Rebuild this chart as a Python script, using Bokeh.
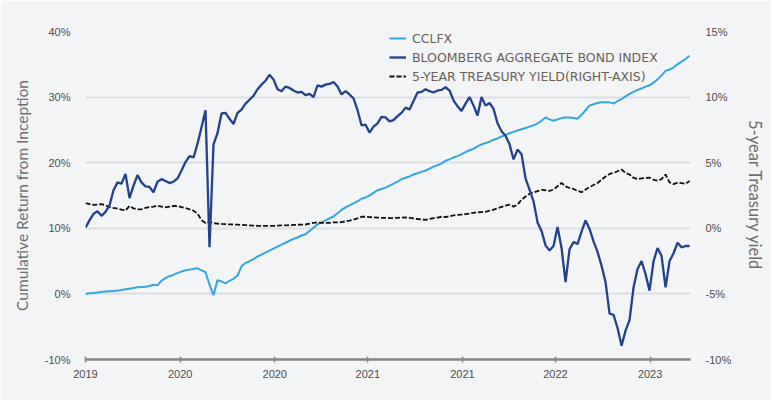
import numpy as np
from bokeh.plotting import figure
from bokeh.models import (Range1d, LinearAxis, FixedTicker, PrintfTickFormatter,
                          Legend, LegendItem)
from bokeh.embed import file_html
from bokeh.resources import INLINE

# ---------------- data ----------------
period_start = 2019.41
period_end = 2023.24
axis_end = 2023.246

tick_pos = [2019.41, 2020.01, 2020.61, 2021.20, 2021.80, 2022.39, 2022.99]
tick_labels = ["2019", "2020", "2020", "2021", "2021", "2022", "2023"]
left_ticks = [-10, 0, 10, 20, 30, 40]
right_ticks = [-10, -5, 0, 5, 10, 15]

series_names = ["CCLFX", "BLOOMBERG AGGREGATE BOND INDEX", "5-YEAR TREASURY YIELD(RIGHT-AXIS)"]

cclfx = [
    0.0, 0.1, 0.15, 0.2, 0.3, 0.35, 0.4, 0.45, 0.5, 0.6,
    0.7, 0.8, 0.9, 1.0, 1.05, 1.1, 1.2, 1.4, 1.3, 2.0,
    2.4, 2.7, 2.9, 3.2, 3.4, 3.6, 3.7, 3.8, 3.9, 3.6,
    3.3, 1.4, -0.2, 2.1, 1.9, 1.6, 2.0, 2.3, 2.8, 4.2,
    4.7, 5.0, 5.3, 5.7, 6.0, 6.3, 6.6, 6.9, 7.2, 7.5,
    7.8, 8.1, 8.4, 8.6, 8.9, 9.1, 9.6, 10.1, 10.6, 10.9,
    11.2, 11.5, 11.8, 12.3, 12.8, 13.2, 13.5, 13.8, 14.1, 14.5,
    14.7, 15.0, 15.4, 15.8, 16.0, 16.2, 16.5, 16.8, 17.1, 17.5,
    17.7, 17.9, 18.2, 18.4, 18.6, 18.8, 19.1, 19.4, 19.6, 19.9,
    20.3, 20.5, 20.8, 21.0, 21.3, 21.6, 21.9, 22.1, 22.5, 22.8,
    23.0, 23.2, 23.5, 23.7, 24.0, 24.2, 24.5, 24.7, 24.9, 25.1,
    25.3, 25.5, 25.7, 26.0, 26.4, 26.9, 26.6, 26.4, 26.6, 26.8,
    26.9, 26.9, 26.8, 26.7, 27.3, 28.0, 28.7, 28.9, 29.1, 29.2,
    29.2, 29.2, 29.0, 29.4, 29.7, 30.1, 30.5, 30.8, 31.1, 31.3,
    31.6, 31.8, 32.2, 32.7, 33.3, 34.0, 34.2, 34.5, 35.0, 35.4,
    35.8, 36.3,
]

bloomberg = [
    10.1, 11.2, 12.2, 12.6, 11.9, 12.5, 13.5, 15.8, 17.0, 16.8,
    18.3, 14.6, 16.5, 18.1, 17.0, 16.4, 16.3, 15.5, 17.1, 17.5,
    17.2, 16.9, 17.1, 17.6, 18.8, 20.1, 21.0, 20.8, 22.9, 25.4,
    28.0, 7.1, 22.8, 24.5, 27.5, 27.6, 26.7, 25.9, 27.6, 28.1,
    29.0, 29.6, 30.2, 31.2, 31.9, 32.5, 33.4, 32.7, 31.2, 30.9,
    31.6, 31.4, 31.0, 30.7, 30.8, 30.3, 30.5, 30.0, 31.8, 31.6,
    31.9, 32.0, 32.3, 31.6, 30.4, 30.9, 30.4, 29.8, 28.0, 25.7,
    25.8, 24.6, 25.5, 26.0, 27.0, 26.9, 26.3, 26.5, 27.1, 27.6,
    28.4, 28.1, 29.4, 30.7, 30.8, 31.2, 30.9, 30.7, 31.0, 31.1,
    31.5, 31.0, 29.5, 28.6, 27.9, 29.0, 30.0, 28.7, 27.2, 30.0,
    28.7, 29.1, 28.2, 26.0, 24.8, 24.1, 22.8, 20.5, 22.0, 21.3,
    17.6, 15.9, 14.1, 10.9, 9.6, 7.4, 6.6, 7.3, 10.2, 7.0,
    1.8, 6.8, 7.9, 7.6, 9.5, 11.2, 9.9, 8.0, 6.4, 4.3,
    1.8, -3.0, -3.2, -5.2, -7.9, -5.6, -4.0, 1.0, 3.8, 5.0,
    3.0, 0.5, 5.0, 7.0, 5.8, 1.0, 5.0, 6.2, 7.8, 7.1,
    7.3, 7.3,
]

treasury = [
    1.92, 1.85, 1.78, 1.80, 1.84, 1.75, 1.62, 1.55, 1.50, 1.42,
    1.36, 1.70, 1.52, 1.44, 1.45, 1.56, 1.62, 1.66, 1.72, 1.66,
    1.60, 1.65, 1.70, 1.70, 1.62, 1.55, 1.45, 1.34, 1.12, 0.62,
    0.40, 0.50, 0.39, 0.36, 0.33, 0.32, 0.30, 0.29, 0.28, 0.26,
    0.24, 0.22, 0.20, 0.19, 0.19, 0.19, 0.19, 0.19, 0.20, 0.22,
    0.23, 0.24, 0.26, 0.27, 0.28, 0.29, 0.35, 0.42, 0.45, 0.42,
    0.42, 0.42, 0.45, 0.45, 0.47, 0.53, 0.58, 0.66, 0.76, 0.88,
    0.88, 0.85, 0.84, 0.82, 0.80, 0.79, 0.78, 0.78, 0.80, 0.82,
    0.83, 0.80, 0.75, 0.71, 0.68, 0.65, 0.72, 0.78, 0.82, 0.88,
    0.86, 0.92, 0.98, 1.02, 1.05, 1.08, 1.13, 1.18, 1.22, 1.24,
    1.26, 1.34, 1.42, 1.52, 1.63, 1.72, 1.80, 1.65, 1.80, 2.18,
    2.42, 2.63, 2.74, 2.84, 2.93, 2.90, 2.86, 2.95, 3.20, 3.45,
    3.19, 3.07, 3.00, 2.85, 2.75, 2.95, 3.14, 3.30, 3.45, 3.70,
    3.95, 4.14, 4.22, 4.35, 4.48, 4.22, 4.10, 3.85, 3.76, 3.80,
    3.84, 3.86, 3.70, 3.63, 3.75, 4.10, 3.50, 3.37, 3.48, 3.45,
    3.40, 3.60,
]

# ---------------- styling ----------------
BG = "#f2f4f6"
GRID = "#dcdee1"
NAVY = "#24418a"
LIGHT = "#35a6de"
TXT = "#4f4f4f"
TITLE = "#6e6e6e"

x_c = np.linspace(period_start, period_end, len(cclfx))
x_b = np.linspace(period_start, period_end, len(bloomberg))
x_t = np.linspace(period_start, period_end, len(treasury))

p = figure(width=771, height=400, output_backend="svg", toolbar_location=None,
           x_range=Range1d(period_start, axis_end),
           y_range=Range1d(left_ticks[0], left_ticks[-1]),
           min_border_left=85, min_border_right=81,
           min_border_top=31, min_border_bottom=41,
           background_fill_color=BG, border_fill_color=BG,
           outline_line_color=None)

p.extra_y_ranges = {"yield": Range1d(right_ticks[0], right_ticks[-1])}

r_c = p.line(x_c, cclfx, line_color=LIGHT, line_width=2)
r_t = p.line(x_t, treasury, line_color="#111111", line_width=1.8,
             line_dash="5 2", y_range_name="yield")
r_b = p.line(x_b, bloomberg, line_color=NAVY, line_width=2.3)

# x axis
xa = p.xaxis[0]
xa.ticker = FixedTicker(ticks=tick_pos)
xa.major_label_overrides = {t: l for t, l in zip(tick_pos, tick_labels)}
xa.axis_line_color = "#858585"
xa.axis_line_width = 2.5
xa.major_tick_line_color = "#858585"
xa.major_tick_line_width = 1.5
xa.major_tick_in = 3
xa.major_tick_out = 3
xa.minor_tick_line_color = None
xa.major_label_standoff = 7
xa.major_label_text_font = "Liberation Sans"
xa.major_label_text_font_size = "11px"
xa.major_label_text_color = TXT

# left axis
ya = p.yaxis[0]
ya.ticker = FixedTicker(ticks=left_ticks)
ya.formatter = PrintfTickFormatter(format="%d%%")
ya.axis_line_color = None
ya.major_tick_line_color = None
ya.minor_tick_line_color = None
ya.major_tick_in = 0
ya.major_tick_out = 0
ya.major_label_standoff = 15
ya.major_label_text_font = "Liberation Sans"
ya.major_label_text_font_size = "11px"
ya.major_label_text_color = TXT
ya.axis_label = "Cumulative Return from Inception"
ya.axis_label_text_font = "Lato"
ya.axis_label_text_font_style = "normal"
ya.axis_label_text_font_size = "15.5px"
ya.axis_label_text_color = TITLE
ya.axis_label_standoff = 11

# right axis
ra = LinearAxis(y_range_name="yield", ticker=FixedTicker(ticks=right_ticks),
                formatter=PrintfTickFormatter(format="%d%%"))
ra.axis_line_color = None
ra.major_tick_line_color = None
ra.minor_tick_line_color = None
ra.major_tick_in = 0
ra.major_tick_out = 0
ra.major_label_standoff = 15
ra.major_label_text_font = "Liberation Sans"
ra.major_label_text_font_size = "11px"
ra.major_label_text_color = TXT
ra.axis_label = "5-year Treasury yield"
ra.axis_label_text_font = "Lato"
ra.axis_label_text_font_style = "normal"
ra.axis_label_text_font_size = "16.5px"
ra.axis_label_text_color = TITLE
ra.axis_label_standoff = 11
p.add_layout(ra, "right")

p.xgrid.grid_line_color = None
p.ygrid.ticker = FixedTicker(ticks=left_ticks)
p.ygrid.grid_line_color = GRID
p.ygrid.grid_line_width = 2

legend = Legend(items=[LegendItem(label=series_names[0], renderers=[r_c]),
                       LegendItem(label=series_names[1], renderers=[r_b]),
                       LegendItem(label=series_names[2], renderers=[r_t])],
                location=(304, 275))
legend.background_fill_alpha = 0
legend.border_line_color = None
legend.padding = 0
legend.margin = 0
legend.spacing = 3
legend.label_height = 16
legend.glyph_height = 16
legend.glyph_width = 17
legend.label_standoff = 6
legend.label_text_font = "DejaVu Sans"
legend.label_text_font_size = "12.5px"
legend.label_text_color = "#6b6058"
p.add_layout(legend)

open("out.html", "w").write(file_html(p, INLINE))
